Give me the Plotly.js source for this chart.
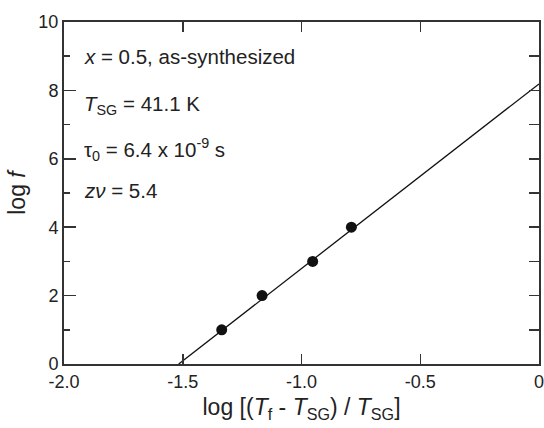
<!DOCTYPE html>
<html>
<head>
<meta charset="utf-8">
<script src="https://cdn.plot.ly/plotly-3.0.1.min.js"></script>
<style>html,body{margin:0;padding:0;background:#fff;}#chart{width:544px;height:428px;}</style>
</head>
<body>
<div id="chart"></div>
<script>
// Data
const pointX = [-1.336, -1.166, -0.953, -0.790];
const pointY = [1, 2, 3, 4];
const fitX = [-1.517, 0];
const fitY = [0, 8.19];
const xTickVals = [-2.0, -1.5, -1.0, -0.5, 0];
const xTickText = ['-2.0', '-1.5', '-1.0', '-0.5', '0'];
const yTickVals = [0, 2, 4, 6, 8, 10];
const yTickText = ['0', '2', '4', '6', '8', '10'];
const notes = [
  '<i>x</i> = 0.5, as-synthesized',
  '<i>T</i><sub>SG</sub> = 41.1 K',
  'τ<sub>0</sub> = 6.4 x 10<sup>-9</sup> s',
  '<i>zν</i> = 5.4'
];
const notePos = [0.9, 0.757, 0.626, 0.506];

const ink = '#222';
const axisLine = '#333';
const font = {family: 'Liberation Sans, Arial, sans-serif', size: 18, color: ink};

const traces = [
  {x: fitX, y: fitY, mode: 'lines', line: {color: '#111', width: 1.3}, hoverinfo: 'skip', showlegend: false},
  {x: pointX, y: pointY, mode: 'markers', marker: {color: '#111', size: 11}, showlegend: false},
  {x: [0], y: [0], xaxis: 'x2', yaxis: 'y2', mode: 'markers', marker: {opacity: 0}, hoverinfo: 'skip', showlegend: false}
];

const layout = {
  width: 544, height: 428,
  margin: {l: 64, r: 5, t: 22, b: 64},
  paper_bgcolor: '#fff', plot_bgcolor: '#fff',
  font: font,
  showlegend: false,
  xaxis: {
    range: [-2, 0], tickvals: xTickVals, ticktext: xTickText,
    ticks: 'inside', ticklen: 10, tickwidth: 1.5, tickcolor: axisLine,
    ticklabeloverflow: 'allow',
    showline: true, linecolor: axisLine, linewidth: 2,
    showgrid: false, zeroline: false,
    tickfont: {size: 18, color: ink},
    title: {text: 'log [(<i>T</i><sub>f</sub> - <i>T</i><sub>SG</sub>) / <i>T</i><sub>SG</sub>]', font: {size: 23, color: ink}, standoff: 8}
  },
  yaxis: {
    range: [0, 10], tickvals: yTickVals, ticktext: yTickText,
    ticks: 'inside', ticklen: 12, tickwidth: 1.5, tickcolor: axisLine,
    ticklabeloverflow: 'allow',
    minor: {dtick: 1, ticks: 'inside', ticklen: 6, tickwidth: 1.5, tickcolor: axisLine, showgrid: false},
    showline: true, linecolor: axisLine, linewidth: 2,
    showgrid: false, zeroline: false,
    tickfont: {size: 18, color: ink},
    title: {text: 'log <i>f</i>', font: {size: 23, color: ink}, standoff: 6}
  },
  xaxis2: {
    overlaying: 'x', side: 'top', range: [-2, 0], dtick: 0.5, tick0: 0,
    ticks: 'inside', ticklen: 10, tickwidth: 1.5, tickcolor: axisLine,
    showticklabels: false, showline: true, linecolor: axisLine, linewidth: 2,
    showgrid: false, zeroline: false
  },
  yaxis2: {
    overlaying: 'y', side: 'right', range: [0, 10], dtick: 1, tick0: 0,
    ticks: 'inside', ticklen: 10, tickwidth: 1.5, tickcolor: axisLine,
    showticklabels: false, showline: true, linecolor: axisLine, linewidth: 2,
    showgrid: false, zeroline: false
  },
  annotations: notes.map((t, i) => ({
    text: t, xref: 'paper', yref: 'paper', x: 0.038, y: notePos[i],
    xanchor: 'left', yanchor: 'middle', showarrow: false,
    font: {size: 20.5, color: ink}
  }))
};

Plotly.newPlot('chart', traces, layout, {staticPlot: true, displayModeBar: false});
</script>
</body>
</html>
